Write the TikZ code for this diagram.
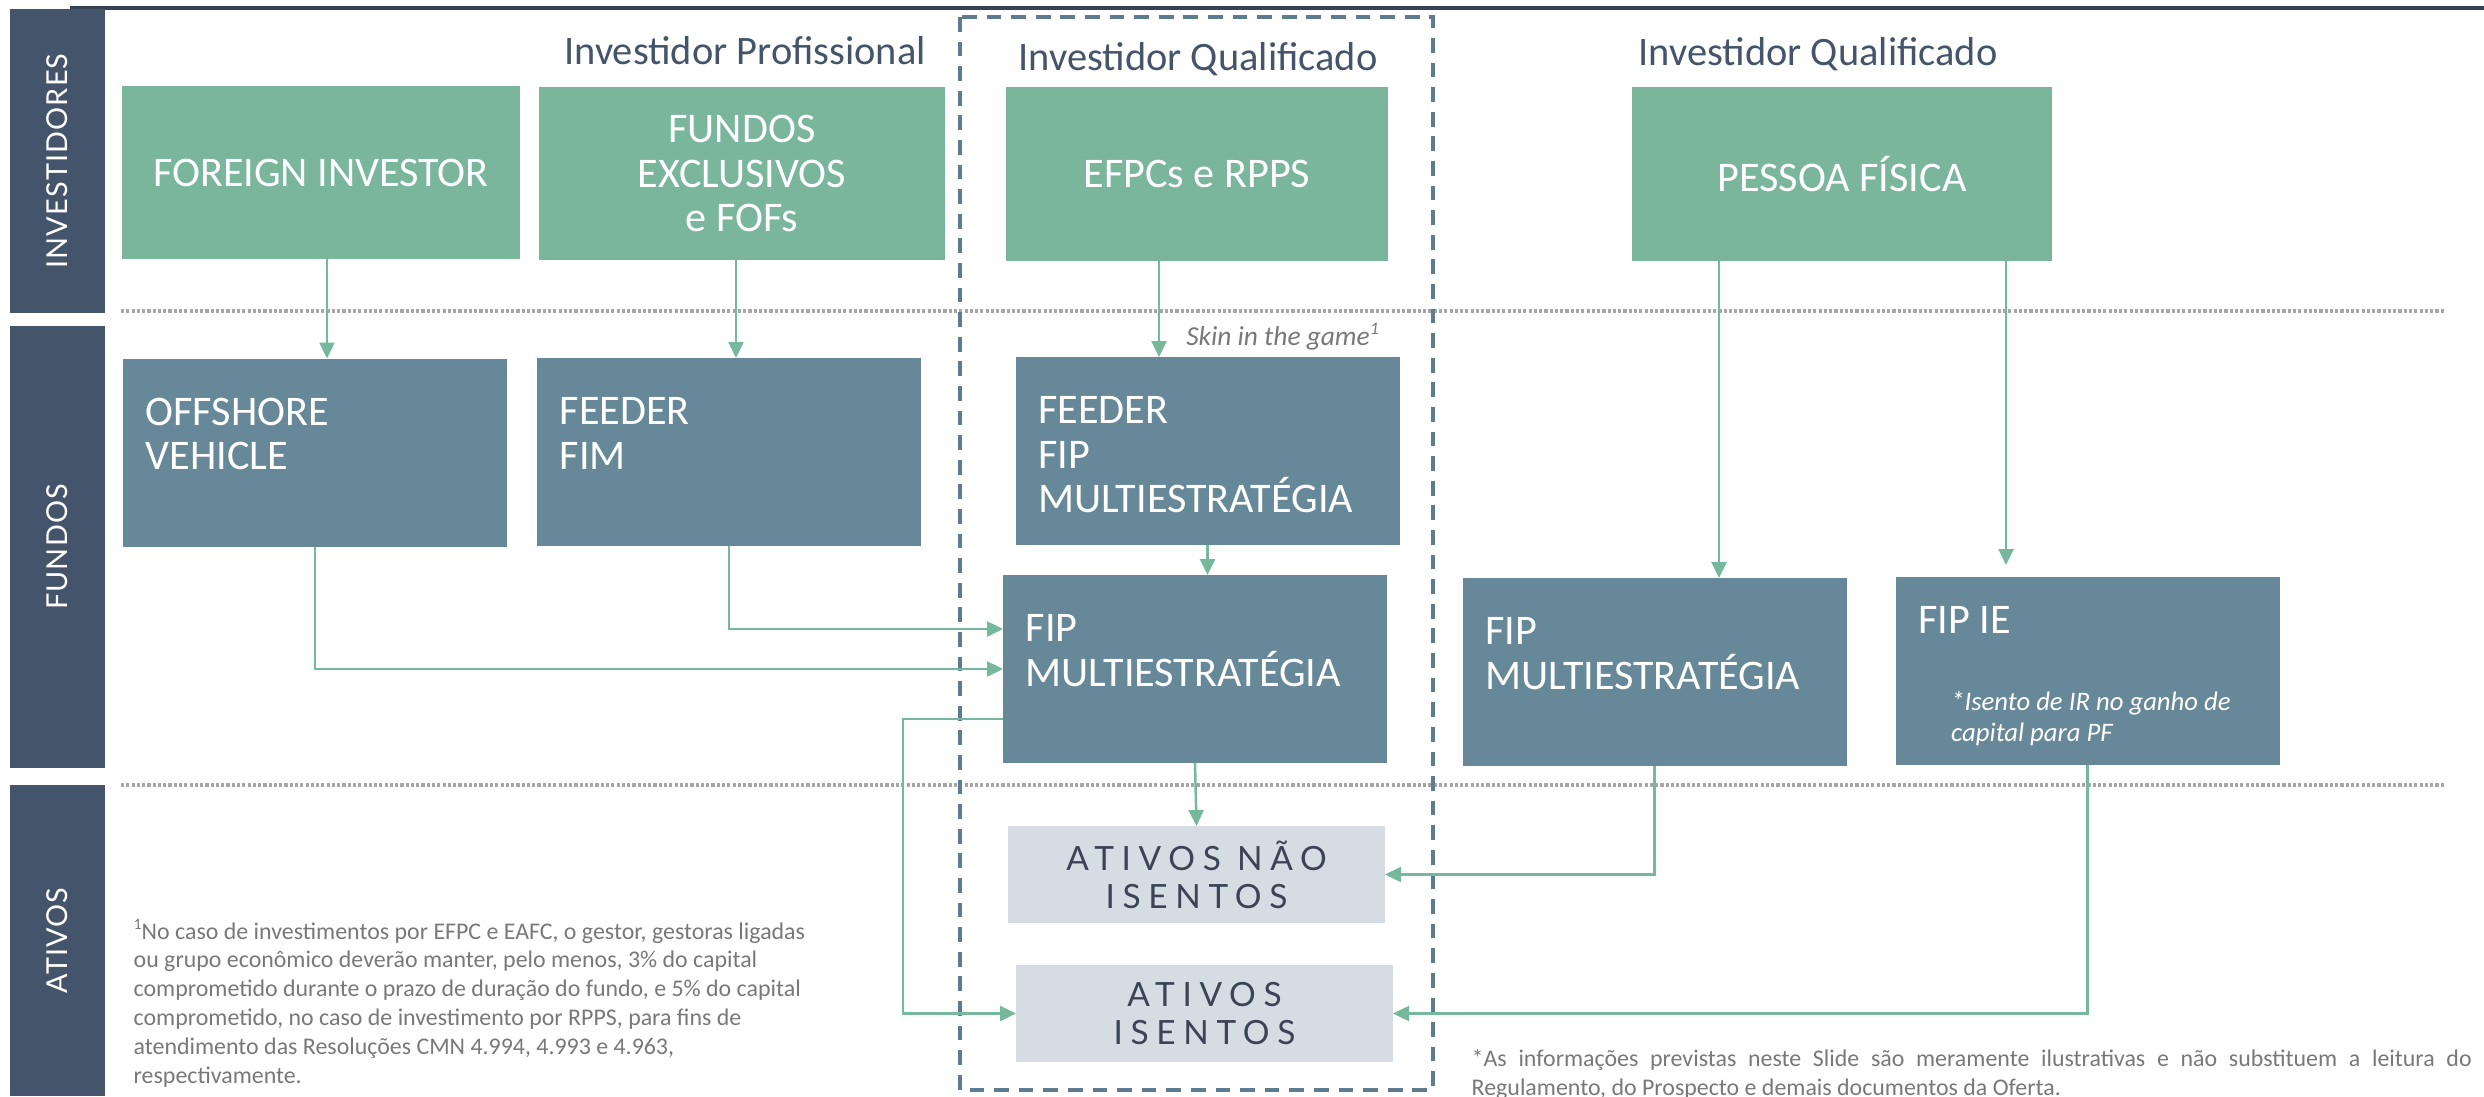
\documentclass[tikz,border=0pt]{standalone}
\usepackage{graphicx}
\usepackage{xcolor}
\usepackage{fontspec}
\setmainfont{Carlito}
\newfontfamily\barfont[LetterSpace=4]{Lato}
\newfontfamily\spacedfont[LetterSpace=23]{Lato}
\usetikzlibrary{arrows.meta}
\definecolor{inv}{RGB}{122, 182, 156}
\definecolor{fnd}{RGB}{103, 136, 152}
\definecolor{atv}{RGB}{214, 220, 228}
\definecolor{bar}{RGB}{68, 84, 106}
\definecolor{lnk}{RGB}{118, 184, 155}
\definecolor{brd}{RGB}{94, 124, 145}
\definecolor{dot}{RGB}{166, 166, 166}
\definecolor{cinza}{RGB}{120, 120, 120}
\definecolor{atvtxt}{RGB}{58, 68, 84}

\begin{document}
\begin{tikzpicture}[x=0.1mm, y=-0.1mm,
        barbox/.style={fill=bar, text=white, inner sep=0, outer sep=0, minimum width=9.5mm, font=\barfont\fontsize{8.2}{10}\selectfont},
        invbox/.style={fill=inv, text=white, inner sep=0, outer sep=0, minimum height=17.3mm, align=center, font=\fontsize{12}{12.6}\selectfont},
        fundbox/.style={fill=fnd, inner sep=0, outer sep=0, minimum width=38.4mm, minimum height=18.8mm},
        fundtxt/.style={anchor=north west, xshift=2.2mm, yshift=-3.9mm, inner sep=0, text=white, align=left, font=\fontsize{12}{12.6}\selectfont},
        atvbox/.style={fill=atv, text=atvtxt, inner sep=0, outer sep=0, minimum width=37.7mm, minimum height=9.7mm, align=center, font=\spacedfont\fontsize{9.5}{10.8}\selectfont},
        head/.style={anchor=base, text=bar, font=\fontsize{11.5}{13}\selectfont},
        seta/.style={draw=lnk, line width=0.7pt, -{Triangle[length=1.6mm, width=1.5mm]}},
        divisa/.style={draw=dot, line width=1pt, dash pattern=on 0.9pt off 0.6pt},
        nota/.style={text=cinza, inner sep=0, font=\fontsize{6.8}{8.2}\selectfont}]
        \useasboundingbox (0,0) rectangle (2484,1096);
        \fill[bar!80!black] (70,6) rectangle (2484,10);
        \node[barbox, minimum height=30.4mm] (investidores) at (57.5,161) {\rotatebox{90}{INVESTIDORES}};
        \node[barbox, minimum height=44.2mm] (fundos) at (57.5,547) {\rotatebox{90}{FUNDOS}};
        \node[barbox, minimum height=31.1mm] (ativos) at (57.5,940.5) {\rotatebox{90}{ATIVOS}};
        \draw[divisa] (121,311) -- (2445,311);
        \draw[divisa] (121,785) -- (2445,785);
        \draw[brd, line width=1.2pt, dash pattern=on 4.2pt off 2.8pt] (960,17) rectangle (1433,1090);

        \node[head] (profissional) at (745,65) {Investidor Profissional};
        \node[head] (qualificado) at (1198,71) {Investidor Qualificado};
        \node[head] (qualificadopf) at (1818,66) {Investidor Qualificado};

        \node[invbox, minimum width=39.8mm] (foreign) at (321,172.5) {FOREIGN INVESTOR};
        \node[invbox, minimum width=40.6mm] (exclusivos) at (742,173.5) {FUNDOS\\EXCLUSIVOS\\e FOFs};
        \node[invbox, minimum width=38.2mm] (efpc) at (1197,174) {EFPCs e RPPS};
        \node[invbox, minimum width=42mm] (pf) at (1842,174) {PESSOA FÍSICA};

        \node[fundbox, label={[fundtxt]north west:OFFSHORE\\VEHICLE}] (offshore) at (315,452.5) {};
        \node[fundbox, label={[fundtxt]north west:FEEDER\\FIM}] (feederfim) at (729,452) {};
        \node[fundbox, label={[fundtxt]north west:FEEDER\\FIP\\MULTIESTRATÉGIA}] (feederfip) at (1207.5,451) {};
        \node[fundbox, label={[fundtxt]north west:FIP\\MULTIESTRATÉGIA}] (fipmulti) at (1195,669) {};
        \node[fundbox, label={[fundtxt]north west:FIP\\MULTIESTRATÉGIA}] (fipqual) at (1654.5,672) {};
        \node[fundbox, label={[fundtxt, yshift=1mm]north west:FIP IE},
            label={[fundtxt, xshift=3.3mm, yshift=-7.5mm, font=\itshape\fontsize{7.6}{8.8}\selectfont]north west:*Isento de IR no ganho de\\capital para PF}] (fipie) at (2087.5,671) {};

        \node[atvbox] (naoisentos) at (1196.5,874.5) {ATIVOS NÃO\\ISENTOS};
        \node[atvbox] (isentos) at (1204.5,1013.5) {ATIVOS\\ISENTOS};

        \draw[seta] ([xshift=0.6mm]foreign.south) -- ([xshift=0.6mm]foreign.south |- offshore.north);
        \draw[seta] ([xshift=-0.6mm]exclusivos.south) -- ([xshift=-0.6mm]exclusivos.south |- feederfim.north);
        \draw[seta] ([xshift=-3.8mm]efpc.south) -- ([xshift=-3.8mm]efpc.south |- feederfip.north)
            node[anchor=south west, xshift=2.6mm, yshift=0.6mm, inner sep=0, text=cinza, font=\itshape\fontsize{7.8}{9}\selectfont] {Skin in the game\raisebox{0.8ex}{\fontsize{5}{5}\selectfont 1}};
        \draw[seta] (feederfip.south) -- (feederfip.south |- fipmulti.north);
        \draw[seta] ([xshift=-12.3mm]pf.south) -- ([xshift=-12.3mm]pf.south |- fipqual.north);
        \draw[seta, shorten >=1.2mm] ([xshift=16.4mm]pf.south) -- ([xshift=16.4mm]pf.south |- fipie.north);
        \draw[seta] (offshore.south) |- (fipmulti.west);
        \draw[seta] (feederfim.south) |- ([yshift=4mm]fipmulti.west);
        \draw[seta] ([yshift=-5mm]fipmulti.west) -- ++(-100,0) |- (isentos.west);
        \draw[seta] (fipmulti.south) -- (naoisentos.north);
        \draw[seta] (fipqual.south) |- (naoisentos.east);
        \draw[seta] (fipie.south) |- (isentos.east);

        \node[nota, anchor=north west, align=left] (rodape) at (133,919) {\raisebox{0.8ex}{\fontsize{4.5}{5}\selectfont 1}No caso de investimentos por EFPC e EAFC, o gestor, gestoras ligadas\\ou grupo econômico deverão manter, pelo menos, 3\% do capital\\comprometido durante o prazo de duração do fundo, e 5\% do capital\\comprometido, no caso de investimento por RPPS, para fins de\\atendimento das Resoluções CMN 4.994, 4.993 e 4.963,\\respectivamente.};
        \node[nota, anchor=north west, text width=100mm, align=justify] (aviso) at (1471,1049) {*As informações previstas neste Slide são meramente ilustrativas e não substituem a leitura do\linebreak Regulamento, do Prospecto e demais documentos da Oferta.};
    \end{tikzpicture}
\end{document}
